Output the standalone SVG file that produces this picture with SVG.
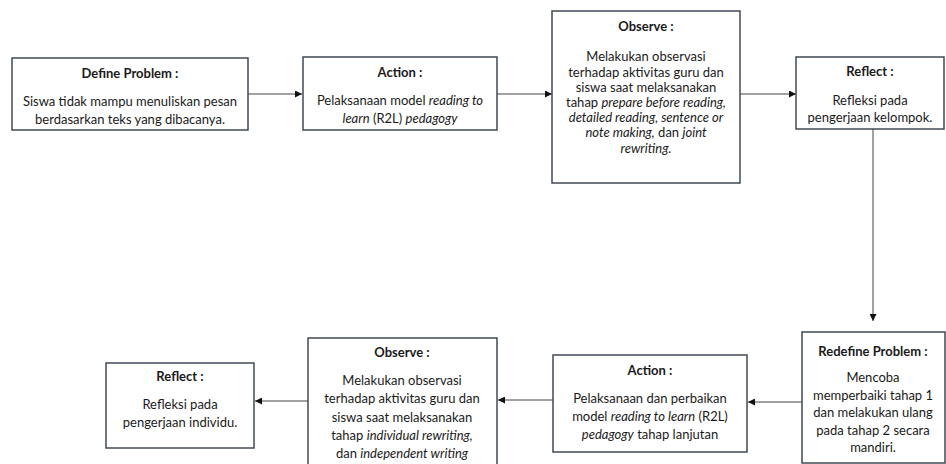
<svg xmlns="http://www.w3.org/2000/svg" width="946" height="464" viewBox="0 0 946 464">
<defs>
<style>
.box{fill:#fff;stroke:#414a55;stroke-width:1.5}
.t{font-family:Lato,"Liberation Sans",sans-serif;font-size:13px;fill:#1a1a1a;text-anchor:middle}
.h{font-weight:bold}
.i{font-style:italic}
.c{fill:none;stroke:#444;stroke-width:1}
</style>
<marker id="ah" viewBox="0 0 10 10" refX="10" refY="5" markerWidth="7" markerHeight="7" orient="auto" markerUnits="userSpaceOnUse">
<path d="M0,0 L10,5 L0,10 z" fill="#111"/>
</marker>
</defs>
<rect width="946" height="464" fill="#fff"/>
<g id="connectors">
<line class="c" x1="248" y1="94" x2="302" y2="94" marker-end="url(#ah)"/>
<line class="c" x1="497" y1="94" x2="552" y2="94" marker-end="url(#ah)"/>
<line class="c" x1="740" y1="94" x2="796" y2="94" marker-end="url(#ah)"/>
<line class="c" x1="873" y1="129" x2="873" y2="321" marker-end="url(#ah)"/>
<line class="c" x1="802" y1="402" x2="748" y2="402" marker-end="url(#ah)"/>
<line class="c" x1="553" y1="400" x2="498" y2="400" marker-end="url(#ah)"/>
<line class="c" x1="308" y1="401" x2="255" y2="401" marker-end="url(#ah)"/>
</g>
<g id="define-problem">
<rect class="box" x="12" y="58" width="236" height="72"/>
<text class="t h" x="130" y="78">Define Problem :</text>
<text class="t" x="130" y="106">Siswa tidak mampu menuliskan pesan</text>
<text class="t" x="130" y="124">berdasarkan teks yang dibacanya.</text>
</g>
<g id="action-1">
<rect class="box" x="303" y="57" width="194" height="73"/>
<text class="t h" x="400" y="77">Action :</text>
<text class="t" x="400" y="105">Pelaksanaan model <tspan class="i">reading to</tspan></text>
<text class="t" x="400" y="123"><tspan class="i">learn</tspan> (R2L) <tspan class="i">pedagogy</tspan></text>
</g>
<g id="observe-1">
<rect class="box" x="552" y="11" width="188" height="172"/>
<text class="t h" x="646" y="31">Observe :</text>
<text class="t" x="646" y="61">Melakukan observasi</text>
<text class="t" x="646" y="77">terhadap aktivitas guru dan</text>
<text class="t" x="646" y="92">siswa saat melaksanakan</text>
<text class="t" x="646" y="107">tahap <tspan class="i">prepare before reading,</tspan></text>
<text class="t i" x="646" y="122">detailed reading, sentence or</text>
<text class="t" x="646" y="137"><tspan class="i">note making,</tspan> dan <tspan class="i">joint</tspan></text>
<text class="t i" x="646" y="153">rewriting.</text>
</g>
<g id="reflect-1">
<rect class="box" x="796" y="57" width="148" height="72"/>
<text class="t h" x="870" y="76">Reflect :</text>
<text class="t" x="870" y="105">Refleksi pada</text>
<text class="t" x="870" y="122">pengerjaan kelompok.</text>
</g>
<g id="redefine-problem">
<rect class="box" x="802" y="332" width="143" height="131"/>
<text class="t h" x="873" y="356">Redefine Problem :</text>
<text class="t" x="873" y="382">Mencoba</text>
<text class="t" x="873" y="400">memperbaiki tahap 1</text>
<text class="t" x="873" y="417">dan melakukan ulang</text>
<text class="t" x="873" y="435">pada tahap 2 secara</text>
<text class="t" x="873" y="452">mandiri.</text>
</g>
<g id="action-2">
<rect class="box" x="553" y="355" width="194" height="97"/>
<text class="t h" x="650" y="375">Action :</text>
<text class="t" x="650" y="403">Pelaksanaan dan perbaikan</text>
<text class="t" x="650" y="421">model <tspan class="i">reading to learn</tspan> (R2L)</text>
<text class="t" x="650" y="439"><tspan class="i">pedagogy</tspan> tahap lanjutan</text>
</g>
<g id="observe-2">
<rect class="box" x="308" y="338" width="189" height="140"/>
<text class="t h" x="402" y="357">Observe :</text>
<text class="t" x="402" y="385">Melakukan observasi</text>
<text class="t" x="402" y="403">terhadap aktivitas guru dan</text>
<text class="t" x="402" y="422">siswa saat melaksanakan</text>
<text class="t" x="402" y="440">tahap <tspan class="i">individual rewriting,</tspan></text>
<text class="t" x="402" y="458">dan <tspan class="i">independent writing</tspan></text>
</g>
<g id="reflect-2">
<rect class="box" x="106" y="363" width="148" height="85"/>
<text class="t h" x="180" y="381">Reflect :</text>
<text class="t" x="180" y="409">Refleksi pada</text>
<text class="t" x="180" y="427">pengerjaan individu.</text>
</g>
</svg>
